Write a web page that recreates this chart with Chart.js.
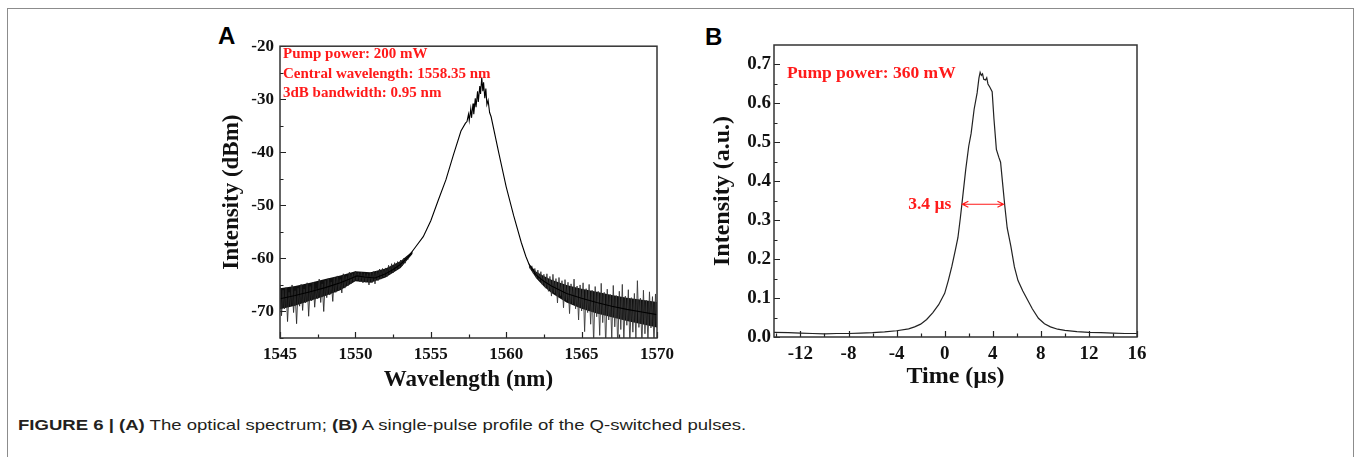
<!DOCTYPE html>
<html>
<head>
<meta charset="utf-8">
<script src="https://cdn.jsdelivr.net/npm/chart.js@4.4.0/dist/chart.umd.min.js"></script>
<style>
  html, body { margin: 0; padding: 0; background: #fff; }
  body { width: 1355px; height: 457px; position: relative; overflow: hidden; }
  .frame { position: absolute; left: 7px; top: 8px; width: 1347px; height: 470px; border: 1.5px solid #8c8c8c; border-bottom: none; box-sizing: border-box; }
  canvas { position: absolute; }
  .panel { position: absolute; font-family: 'Liberation Sans', Arial, sans-serif; font-weight: bold; font-size: 24px; line-height: 1; color: #000; }
  .cap { position: absolute; left: 18px; top: 417px; font-family: 'Liberation Sans', Arial, sans-serif; font-size: 15px; line-height: 1; white-space: nowrap; transform-origin: 0 0; color: #231f20; }
</style>
</head>
<body>
<div class="frame"></div>
<div class="panel" style="left:218px; top:24px;">A</div>
<div class="panel" style="left:705px; top:25px;">B</div>
<canvas id="cA" width="480" height="365" style="left:200px; top:30px;"></canvas>
<canvas id="cB" width="470" height="365" style="left:690px; top:30px;"></canvas>
<div class="cap" id="cap"><b>FIGURE 6 | (A)</b> The optical spectrum; <b>(B)</b> A single-pulse profile of the Q-switched pulses.</div>
<script>
// ---- panel A : optical spectrum ----
const specWl = [1545, 1546, 1547, 1548, 1549, 1549.7, 1550.1, 1550.6, 1551.3, 1552, 1552.5, 1553, 1553.5, 1554, 1554.5, 1555, 1555.5, 1556, 1556.5, 1557, 1557.3,
  1557.4, 1557.5, 1557.55, 1557.65, 1557.7, 1557.8, 1557.85, 1557.95, 1558.0, 1558.1, 1558.15, 1558.25, 1558.3, 1558.38, 1558.45, 1558.5, 1558.58, 1558.65, 1558.72, 1558.8, 1558.9,
  1559, 1559.5, 1560, 1560.5, 1561, 1561.3, 1561.5, 1562, 1562.5, 1563, 1564, 1565, 1566, 1567, 1568, 1569, 1570];
const specDbm = [-67.6, -67.0, -66.3, -65.5, -64.6, -63.8, -63.3, -63.5, -63.7, -62.9, -62.1, -61.1, -59.7, -57.8, -55.9, -52.9, -49.0, -45.2, -40.5, -36.0, -34.5,
  -34.2, -32.8, -34.0, -31.8, -33.5, -30.8, -32.8, -29.8, -31.5, -28.5, -30.5, -27.5, -29.0, -25.9, -28.5, -26.8, -29.8, -28.0, -31.0, -30.2, -32.5,
  -33.3, -40.0, -46.5, -52.0, -57.0, -59.6, -61.0, -63.2, -64.3, -65.2, -66.6, -67.5, -68.3, -69.0, -69.6, -70.1, -70.6];

// dense noise core (upper / lower edge of the black band)
const bandLeftWl = [1545, 1546, 1547, 1548, 1549, 1550, 1551, 1552, 1553, 1553.8];
const bandLeftHi = [-65.6, -65.2, -64.6, -63.9, -63.2, -62.4, -62.6, -61.9, -60.5, -58.6];
const bandLeftLo = [-69.6, -68.9, -68.0, -67.1, -66.0, -64.3, -64.6, -63.6, -61.8, -59.1];
const bandRightWl = [1561.5, 1562, 1562.5, 1563, 1564, 1565, 1566, 1567, 1568, 1569, 1570];
const bandRightHi = [-61.0, -62.5, -63.3, -64.0, -65.0, -65.7, -66.3, -66.9, -67.4, -67.8, -68.2];
const bandRightLo = [-61.6, -63.8, -65.3, -66.5, -68.3, -69.5, -70.4, -71.1, -71.8, -72.4, -73.0];

const noiseLeftStart = 1545.0;
const noiseLeftDbm = [-65.2, -70.8, -66.0, -69.5, -65.5, -71.9, -66.4, -68.9, -65.0, -70.2,
  -66.1, -72.3, -65.6, -69.0, -64.9, -69.8, -65.8, -68.4, -64.6, -70.9,
  -65.3, -68.0, -64.5, -69.2, -65.7, -67.6, -63.9, -68.3, -64.8, -70.0,
  -64.2, -67.4, -63.8, -66.9, -64.5, -68.1, -63.6, -66.4, -63.3, -66.0,
  -64.0, -66.5, -62.9, -65.6, -63.4, -65.2, -62.6, -64.8, -62.9, -64.3,
  -62.4, -64.1, -62.7, -64.4, -62.6, -64.6, -62.8, -64.5, -62.9, -65.0,
  -62.7, -64.6, -62.5, -64.8, -62.4, -64.2, -62.0, -63.9, -61.9, -63.5,
  -61.8, -63.4, -61.3, -62.9, -61.0, -62.7, -60.8, -62.2, -60.6, -61.8,
  -60.3, -61.4, -60.0, -60.9, -59.6, -60.2];
const noiseRightStart = 1561.5;
const noiseRightDbm = [-60.9, -62.0, -61.4, -62.8, -61.9, -63.6, -62.2, -64.1, -62.5, -65.0,
  -63.0, -65.6, -62.9, -66.2, -63.4, -67.1, -63.0, -66.5, -63.8, -68.4,
  -63.6, -67.0, -64.2, -69.3, -64.0, -67.9, -64.5, -70.4, -64.8, -68.6,
  -63.9, -69.5, -65.2, -71.6, -65.0, -69.9, -64.6, -73.8, -65.7, -70.2,
  -64.9, -72.4, -66.0, -76.0, -65.3, -71.0, -66.2, -74.5, -64.7, -72.1,
  -66.4, -76.5, -65.8, -71.6, -66.8, -75.2, -65.1, -72.9, -67.0, -76.8,
  -66.2, -73.4, -64.9, -75.7, -67.1, -72.6, -65.9, -76.2, -67.4, -73.9,
  -66.6, -75.1, -64.2, -73.0, -67.5, -76.4, -66.0, -74.2, -67.9, -75.8,
  -66.3, -73.1, -67.2, -76.3, -66.7, -72.8];

const xTicksA = [1545, 1550, 1555, 1560, 1565, 1570];
const xMinorA = [1547.5, 1552.5, 1557.5, 1562.5, 1567.5];
const yTicksA = [-70, -60, -50, -40, -30, -20];
const yMinorA = [-75, -65, -55, -45, -35, -25];
const notesA = ['Pump power: 200 mW', 'Central wavelength: 1558.35 nm', '3dB bandwidth: 0.95 nm'];

// ---- panel B : single pulse ----
const pulseT = [-14.2, -13, -12, -11, -10, -9, -8, -7, -6, -5, -4, -3, -2.5, -2, -1.5, -1, -0.5, 0, 0.3, 0.6, 0.9, 1.1, 1.3, 1.5, 1.75, 2.0, 2.2, 2.45, 2.7, 2.85, 2.95,
  3.05, 3.15, 3.25, 3.4, 3.5, 3.6, 3.75, 3.95, 4.1, 4.3, 4.5, 4.65, 4.85, 5.0, 5.2, 5.5, 5.8, 6.1, 6.5, 6.9, 7.3, 7.8, 8.3, 8.8, 9.4, 10, 11, 12, 13, 14, 15, 16];
const pulseI = [0.012, 0.011, 0.010, 0.009, 0.008, 0.009, 0.009, 0.010, 0.011, 0.013, 0.016, 0.021, 0.026, 0.033, 0.045, 0.062, 0.083, 0.112, 0.145, 0.182, 0.225, 0.255, 0.305, 0.360, 0.430, 0.490, 0.523, 0.585, 0.627, 0.665, 0.680,
  0.672, 0.676, 0.662, 0.660, 0.666, 0.650, 0.642, 0.630, 0.560, 0.482, 0.462, 0.449, 0.385, 0.337, 0.280, 0.234, 0.180, 0.145, 0.118, 0.095, 0.072, 0.048, 0.034, 0.026, 0.020, 0.017, 0.014, 0.012, 0.011, 0.010, 0.009, 0.009];
const xTicksB = [-12, -8, -4, 0, 4, 8, 12, 16];
const xMinorB = [-14, -10, -6, -2, 2, 6, 10, 14];
const yTicksB = [0, 0.1, 0.2, 0.3, 0.4, 0.5, 0.6, 0.7];
const yMinorB = [0.05, 0.15, 0.25, 0.35, 0.45, 0.55, 0.65];
const fwhm = { from: 1.47, to: 4.89, level: 0.341, text: '3.4 µs' };
const noteB = 'Pump power: 360 mW';

const serif = 'Liberation Serif, Times New Roman, serif';
const ink = '#111';
const red = '#ff1a1a';

const pts = (xs, ys) => xs.map((x, i) => ({ x, y: ys[i] }));
const grid = (start, ys) => ys.map((y, i) => ({ x: +(start + i * 0.1).toFixed(2), y }));

// inward ticks + box round the plot area
const frameTicks = {
  id: 'frameTicks',
  afterDatasetsDraw(chart, args, o) {
    const { ctx, chartArea: a, scales: { x, y } } = chart;
    ctx.save();
    ctx.strokeStyle = '#222';
    ctx.lineWidth = 1.2;
    ctx.beginPath();
    o.xMajor.forEach(v => { const p = Math.round(x.getPixelForValue(v)) + 0.5; ctx.moveTo(p, a.bottom); ctx.lineTo(p, a.bottom - 6); });
    o.xMinor.forEach(v => { const p = Math.round(x.getPixelForValue(v)) + 0.5; ctx.moveTo(p, a.bottom); ctx.lineTo(p, a.bottom - 3.5); });
    o.yMajor.forEach(v => { const p = Math.round(y.getPixelForValue(v)) + 0.5; ctx.moveTo(a.left, p); ctx.lineTo(a.left + 6, p); });
    o.yMinor.forEach(v => { const p = Math.round(y.getPixelForValue(v)) + 0.5; ctx.moveTo(a.left, p); ctx.lineTo(a.left + 3.5, p); });
    ctx.stroke();
    ctx.lineWidth = 1.5;
    ctx.strokeStyle = '#333';
    ctx.strokeRect(a.left, a.top, a.right - a.left, a.bottom - a.top);
    ctx.restore();
  }
};

const notes = {
  id: 'notes',
  afterDraw(chart, args, o) {
    const { ctx, chartArea: a, scales: { x, y } } = chart;
    ctx.save();
    ctx.fillStyle = red;
    ctx.strokeStyle = red;
    ctx.textBaseline = 'middle';
    ctx.font = 'bold ' + o.size + 'px ' + serif;
    o.lines.forEach((t, i) => ctx.fillText(t, a.left + o.dx, a.top + o.dy + i * o.gap));
    if (o.arrow) {
      const x0 = x.getPixelForValue(o.arrow.from), x1 = x.getPixelForValue(o.arrow.to), yy = y.getPixelForValue(o.arrow.level);
      ctx.lineWidth = 1.2;
      ctx.beginPath();
      ctx.moveTo(x0, yy); ctx.lineTo(x1, yy);
      ctx.moveTo(x0 + 6, yy - 3); ctx.lineTo(x0, yy); ctx.lineTo(x0 + 6, yy + 3);
      ctx.moveTo(x1 - 6, yy - 3); ctx.lineTo(x1, yy); ctx.lineTo(x1 - 6, yy + 3);
      ctx.stroke();
      ctx.textAlign = 'right';
      ctx.fillText(o.arrow.text, x0 - 11, yy);
    }
    ctx.restore();
  }
};

function axisOpts(min, max, ticks, fmt, tickSize, padding, side, title, titleSize, titlePad) {
  return {
    type: 'linear', min, max,
    afterBuildTicks: s => { s.ticks = ticks.map(value => ({ value })); },
    afterFit: s => { if (side.w) s.width = side.w; if (side.h) s.height = side.h; },
    grid: { display: false, drawTicks: false },
    border: { display: false },
    ticks: { padding, color: ink, autoSkip: false, maxRotation: 0, font: { family: serif, weight: 'bold', size: tickSize }, callback: fmt },
    title: { display: true, text: title, color: ink, font: { family: serif, weight: 'bold', size: titleSize, lineHeight: 1.2 }, padding: titlePad }
  };
}

const base = {
  responsive: false, animation: false, devicePixelRatio: 1,
  elements: { point: { radius: 0 }, line: { tension: 0 } },
};

const clear = 'rgba(0,0,0,0)';
const core = 'rgba(0,0,0,0.94)';

new Chart(document.getElementById('cA'), {
  type: 'line',
  data: {
    datasets: [
      { data: pts(specWl, specDbm), borderColor: '#000', borderWidth: 1.1 },
      { data: grid(noiseLeftStart, noiseLeftDbm), borderColor: '#2a2a2a', borderWidth: 0.9 },
      { data: grid(noiseRightStart, noiseRightDbm), borderColor: '#3a3a3a', borderWidth: 0.9 },
      { data: pts(bandLeftWl, bandLeftHi), borderColor: clear, borderWidth: 0 },
      { data: pts(bandLeftWl, bandLeftLo), borderColor: clear, borderWidth: 0, fill: '-1', backgroundColor: core },
      { data: pts(bandRightWl, bandRightHi), borderColor: clear, borderWidth: 0 },
      { data: pts(bandRightWl, bandRightLo), borderColor: clear, borderWidth: 0, fill: '-1', backgroundColor: core }
    ]
  },
  options: {
    ...base,
    layout: { padding: { top: 15, right: 16, left: 0, bottom: 0 } },
    plugins: {
      legend: { display: false }, tooltip: { enabled: false },
      frameTicks: { xMajor: xTicksA, xMinor: xMinorA, yMajor: yTicksA, yMinor: yMinorA },
      notes: { lines: notesA, size: 15, dx: 3, dy: 8, gap: 19.5 }
    },
    scales: {
      x: axisOpts(1545, 1570, xTicksA, v => String(v), 17, 6, { h: 57 }, 'Wavelength (nm)', 23, { top: 0, bottom: 1 }),
      y: axisOpts(-75, -20, yTicksA, v => String(v), 17, 6, { w: 80 }, 'Intensity (dBm)', 23, { top: 18, bottom: 0 })
    }
  },
  plugins: [frameTicks, notes]
});

new Chart(document.getElementById('cB'), {
  type: 'line',
  data: { datasets: [{ data: pts(pulseT, pulseI), borderColor: '#222', borderWidth: 1.2 }] },
  options: {
    ...base,
    layout: { padding: { top: 15, right: 23, left: 0, bottom: 0 } },
    plugins: {
      legend: { display: false }, tooltip: { enabled: false },
      frameTicks: { xMajor: xTicksB, xMinor: xMinorB, yMajor: yTicksB, yMinor: yMinorB },
      notes: { lines: [noteB], size: 17.5, dx: 13, dy: 28, gap: 0, arrow: fwhm }
    },
    scales: {
      x: axisOpts(-14.2, 16, xTicksB, v => String(v), 19, 6, { h: 58 }, 'Time (µs)', 24, { top: 0, bottom: 4 }),
      y: axisOpts(0, 0.75, yTicksB, v => v.toFixed(1), 19, 3, { w: 84 }, 'Intensity (a.u.)', 24, { top: 18, bottom: 0 })
    }
  },
  plugins: [frameTicks, notes]
});

// caption is set in a condensed face in the original; squeeze to its width
const cap = document.getElementById('cap');
cap.style.transform = 'scaleX(' + (728 / cap.offsetWidth) + ')';
</script>
</body>
</html>
